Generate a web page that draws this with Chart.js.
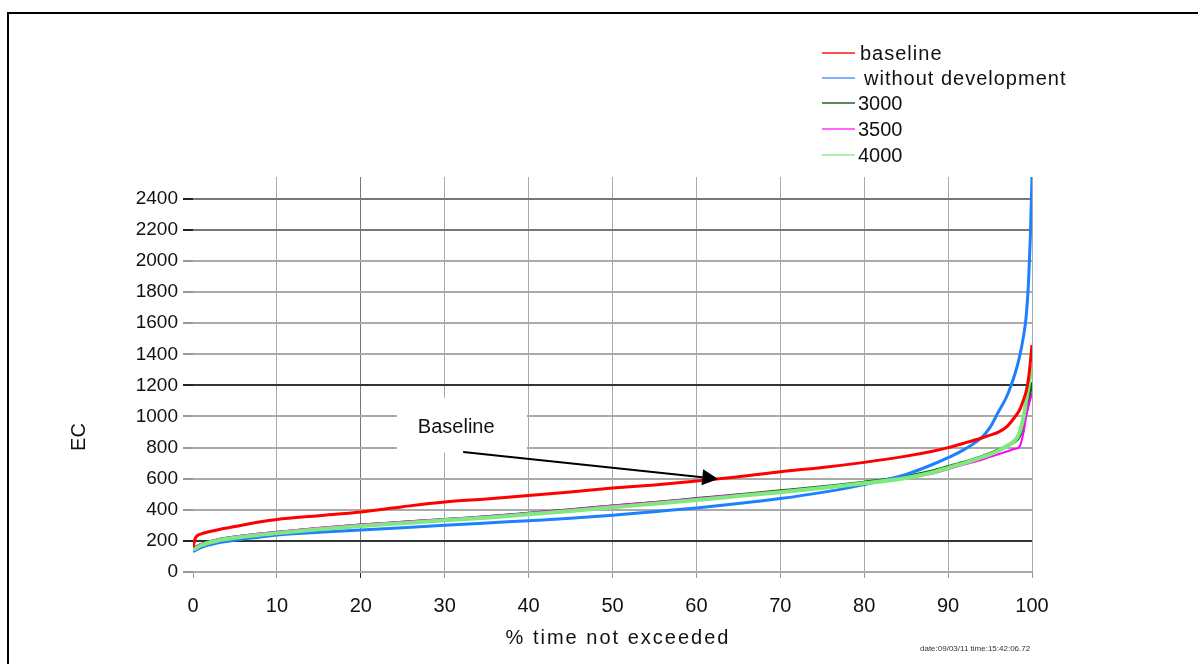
<!DOCTYPE html>
<html><head><meta charset="utf-8">
<script src="https://cdn.jsdelivr.net/npm/chart.js@4.4.0/dist/chart.umd.min.js"></script>
<style>html,body{margin:0;padding:0;background:#fff;}#wrap{position:relative;width:1203px;height:664px;}</style>
</head><body><div id="wrap"><canvas id="c" width="1203" height="664"></canvas></div>
<script>
// ---- data ----
const pct = [0, 0.3, 1, 2, 3, 5, 7.5, 10, 15, 20, 25, 30, 35, 40, 45, 50, 55, 60, 65, 70, 75, 80, 85, 88, 90, 92, 94, 95, 96, 97, 98, 98.5, 99, 99.3, 99.6, 99.8, 100];
const baseline = [160, 220, 245, 260, 272, 292, 318, 338, 362, 386, 420, 450, 470, 492, 515, 540, 560, 585, 612, 645, 672, 705, 745, 775, 800, 830, 862, 880, 900, 935, 1000, 1040, 1110, 1160, 1250, 1350, 1460];
const withoutDev = [130, 140, 158, 175, 188, 205, 222, 238, 255, 270, 285, 300, 315, 330, 345, 365, 388, 412, 440, 472, 512, 562, 628, 688, 735, 790, 865, 930, 1030, 1130, 1280, 1380, 1520, 1640, 1880, 2150, 2540];
const s3000 = [150, 160, 178, 195, 208, 225, 242, 255, 280, 302, 320, 338, 355, 378, 400, 425, 447, 472, 497, 522, 548, 578, 615, 648, 678, 708, 742, 762, 785, 810, 840, 870, 950, 1020, 1100, 1160, 1220];
const s3500 = [148, 160, 180, 197, 210, 228, 245, 258, 284, 305, 323, 340, 357, 380, 402, 427, 449, 473, 497, 520, 545, 572, 605, 632, 662, 692, 722, 740, 757, 775, 792, 805, 900, 1000, 1070, 1110, 1150];
const s4000 = [142, 152, 172, 190, 203, 220, 237, 250, 275, 296, 314, 332, 349, 371, 393, 416, 439, 463, 488, 513, 540, 570, 605, 638, 670, 702, 737, 757, 780, 810, 848, 895, 1000, 1100, 1200, 1270, 1330];
const seriesNames = ['baseline', 'without development', '3000', '3500', '4000'];
const xTitle = '% time not exceeded';
const yTitle = 'EC';
const noteText = 'Baseline';
const stampText = 'date:09/03/11 time:15:42:06.72';

const FONT = "'Liberation Sans', Arial, sans-serif";
const toPts = arr => arr.map((v, i) => ({x: pct[i], y: v}));

const colors = ['#ff0000', '#1e80ff', '#007000', '#ff00ff', '#80e880'];
const legendColors = ['#ff5050', '#80b0ff', '#5a8a5a', '#ff66ff', '#aaf0aa'];
const widths = [3, 3, 3, 2, 4];
const orders = [0, 2, 4, 3, 1];
const allSeries = [baseline, withoutDev, s3000, s3500, s4000];

const decor = {
  id: 'decor',
  beforeDraw(chart) {
    const ctx = chart.ctx;
    ctx.save();
    ctx.fillStyle = '#fff';
    ctx.fillRect(0, 0, chart.width, chart.height);
    ctx.strokeStyle = '#000';
    ctx.lineWidth = 2;
    ctx.beginPath();
    ctx.moveTo(8, 664); ctx.lineTo(8, 13); ctx.lineTo(1198, 13);
    ctx.stroke();
    ctx.restore();
  },
  beforeDatasetsDraw(chart) {
    const xs = chart.scales.x, ys = chart.scales.y, ctx = chart.ctx;
    const l = xs.getPixelForValue(24.3), r = xs.getPixelForValue(39.8);
    const t = ys.getPixelForValue(1120), b = ys.getPixelForValue(768);
    ctx.save();
    ctx.fillStyle = '#fff';
    ctx.fillRect(l, t, r - l, b - t);
    ctx.restore();
  },
  afterDatasetsDraw(chart) {
    const xs = chart.scales.x, ys = chart.scales.y, ctx = chart.ctx;
    ctx.save();
    // annotation text
    ctx.fillStyle = '#111';
    ctx.font = '20px ' + FONT;
    ctx.textAlign = 'left';
    ctx.textBaseline = 'middle';
    ctx.fillText(noteText, xs.getPixelForValue(26.8), ys.getPixelForValue(927));
    // arrow
    const x0 = xs.getPixelForValue(32.2), y0 = ys.getPixelForValue(772);
    const x1 = xs.getPixelForValue(62.6), y1 = ys.getPixelForValue(598);
    const ang = Math.atan2(y1 - y0, x1 - x0);
    const L = 16, W = 8;
    const bx = x1 - L * Math.cos(ang), by = y1 - L * Math.sin(ang);
    ctx.strokeStyle = '#000';
    ctx.lineWidth = 2;
    ctx.beginPath(); ctx.moveTo(x0, y0); ctx.lineTo(bx, by); ctx.stroke();
    ctx.fillStyle = '#000';
    ctx.beginPath();
    ctx.moveTo(x1, y1);
    ctx.lineTo(bx + W * Math.sin(ang), by - W * Math.cos(ang));
    ctx.lineTo(bx - W * Math.sin(ang), by + W * Math.cos(ang));
    ctx.closePath(); ctx.fill();

    // legend
    const ly = [53, 78, 103, 129, 155];
    const lx = [860, 864, 858, 858, 858];
    ctx.font = '20px ' + FONT;
    ctx.textBaseline = 'middle';
    seriesNames.forEach((n, i) => {
      ctx.strokeStyle = legendColors[i];
      ctx.lineWidth = 2;
      ctx.beginPath(); ctx.moveTo(822, ly[i]); ctx.lineTo(855, ly[i]); ctx.stroke();
      ctx.fillStyle = '#111';
      ctx.letterSpacing = i < 2 ? '1px' : '0px';
      ctx.fillText(n, lx[i], ly[i] + 1);
    });
    ctx.letterSpacing = '0px';

    // axis titles
    ctx.font = '20px ' + FONT;
    ctx.textAlign = 'center';
    ctx.letterSpacing = '2px';
    ctx.fillText(xTitle, 618, 638);
    ctx.letterSpacing = '0px';
    ctx.save();
    ctx.translate(79, 437);
    ctx.rotate(-Math.PI / 2);
    ctx.fillText(yTitle, 0, 0);
    ctx.restore();

    // stamp
    ctx.font = '8px ' + FONT;
    ctx.textAlign = 'left';
    ctx.fillStyle = '#333';
    ctx.fillText(stampText, 920, 649);
    ctx.restore();
  }
};

new Chart(document.getElementById('c'), {
  type: 'line',
  data: {
    datasets: allSeries.map((s, i) => ({
      label: seriesNames[i],
      data: toPts(s),
      borderColor: colors[i],
      backgroundColor: colors[i],
      borderWidth: widths[i],
      pointRadius: 0,
      cubicInterpolationMode: 'monotone',
      fill: false,
      order: orders[i]
    }))
  },
  options: {
    responsive: false,
    animation: false,
    events: [],
    layout: {padding: {top: 177, right: 171, left: 0, bottom: 0}},
    plugins: {legend: {display: false}, tooltip: {enabled: false}, title: {display: false}},
    scales: {
      x: {
        type: 'linear', min: 0, max: 100,
        afterFit: s => { s.height = 92; },
        border: {display: false},
        grid: {
          lineWidth: 1,
          color: c => c.tick.value === 0 ? 'rgba(0,0,0,0)' : (c.tick.value === 20 ? '#777' : '#aaa'),
          tickColor: c => c.tick.value === 20 ? '#222' : '#999',
          tickLength: 6
        },
        ticks: {stepSize: 10, padding: 16, color: '#111', font: {family: FONT, size: 20}, maxRotation: 0,
          callback: v => String(v)}
      },
      y: {
        min: 0, max: 2540,
        afterFit: s => { s.width = 193; },
        border: {display: false},
        grid: {
          lineWidth: 2,
          color: c => {
            const v = c.tick.value;
            if (v === 200 || v === 1200) return '#333';
            if (v === 2400 || v === 2200) return '#777';
            return '#aaa';
          },
          tickColor: c => {
            const v = c.tick.value;
            if (v === 2400 || v === 2200 || v === 1200 || v === 200) return '#222';
            return '#999';
          },
          tickLength: 10
        },
        ticks: {stepSize: 200, includeBounds: false, padding: 5, color: '#111', font: {family: FONT, size: 19},
          callback: v => String(v)}
      }
    }
  },
  plugins: [decor]
});
</script>
</body></html>
